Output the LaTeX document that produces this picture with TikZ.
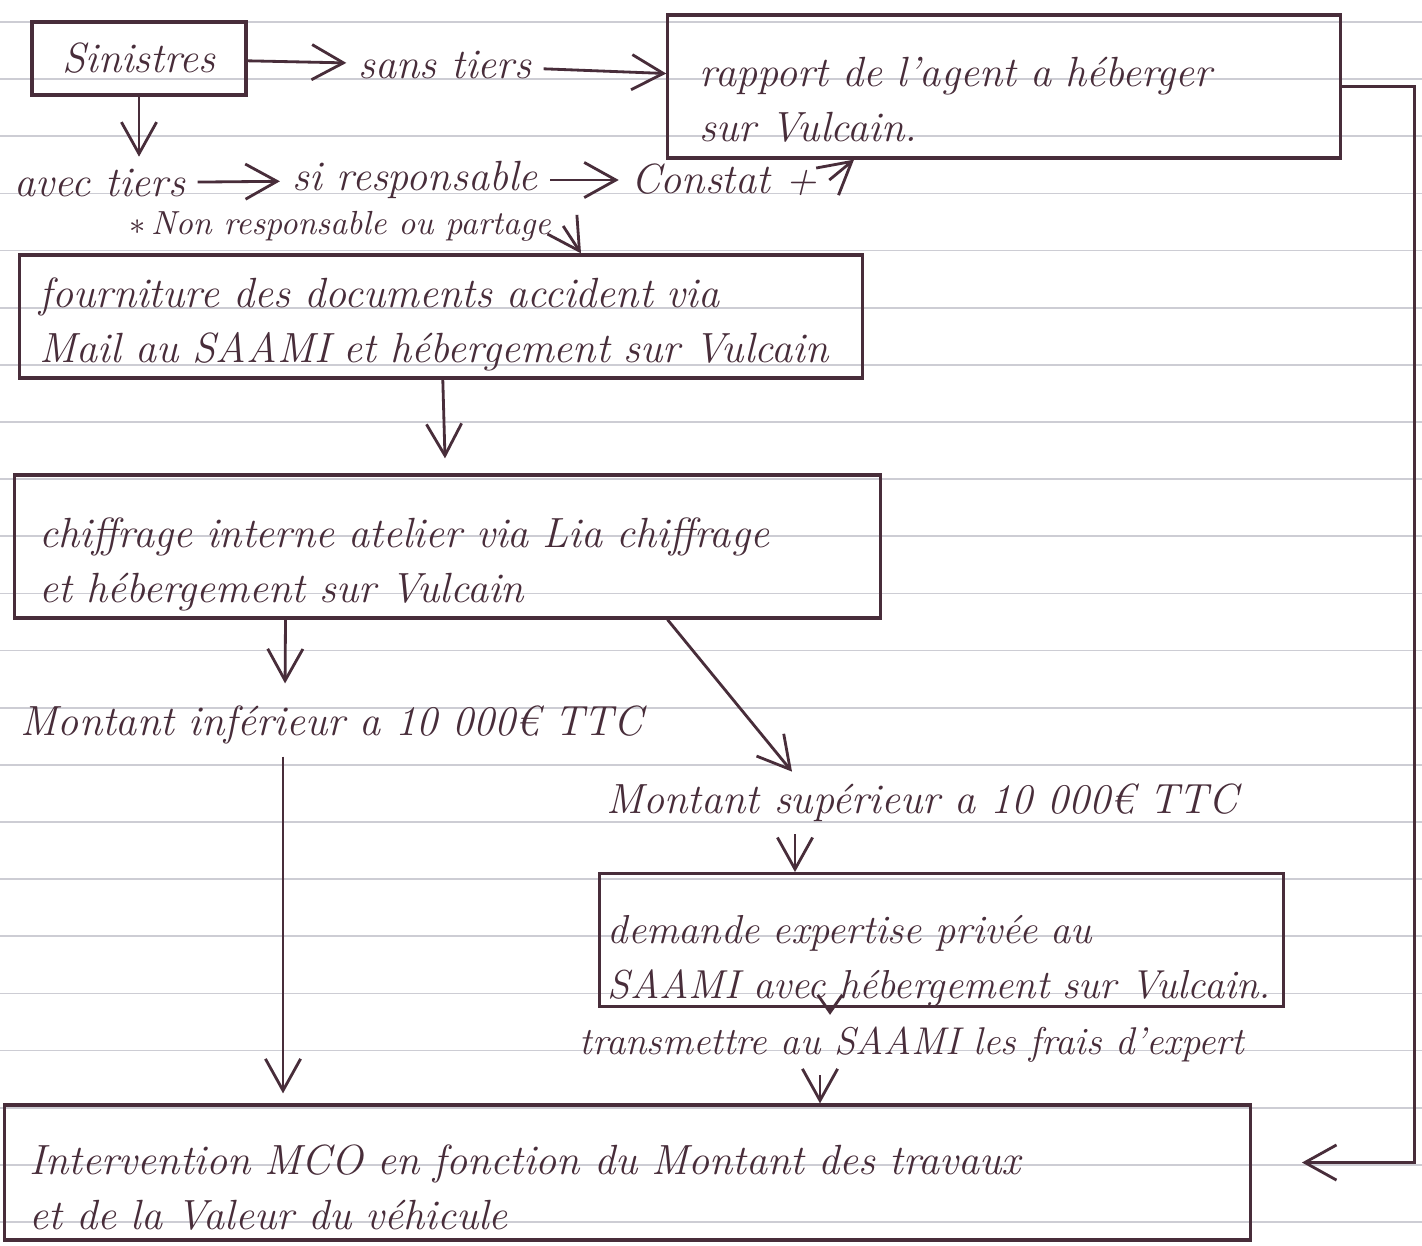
\documentclass[tikz,border=0pt]{standalone}
\usepackage{tikz}
\usetikzlibrary{calc,arrows.meta}
\definecolor{ink}{RGB}{72,45,58}
\definecolor{paperline}{RGB}{205,205,212}

\begin{document}
\begin{tikzpicture}[x=0.01cm,y=-0.01cm,
  every node/.style={text=ink,font=\fontsize{12}{15.5}\selectfont\itshape},
  box/.style={draw=ink,line width=.9pt,inner ysep=0pt,align=left},
  textdrop/.style={execute at begin node={\rule{0pt}{#1}}},
  flow/.style={draw=ink,line width=.8pt,-{Straight Barb[length=9pt,width=10pt]}},
  shortflow/.style={flow,-{Straight Barb[length=5pt,width=7pt]}},
  small/.style={font=\fontsize{9.5}{11}\selectfont\itshape}]
  \useasboundingbox (0,0) rectangle (1422,1245);
  \fill[white] (0,0) rectangle (1422,1245);
  \foreach \i in {0,...,21}
    \draw[paperline,line width=.5pt] (0,22+57.14*\i) -- (1422,22+57.14*\i);

  \node[box,minimum width=2.14cm,minimum height=0.73cm] (sin) at (139,58.5) {Sinistres};
  \node (sans) at (445,65) {sans tiers};
  \node[box,textdrop=0.56cm,text width=6.08cm,inner xsep=0.32cm,minimum height=1.43cm] (rap) at (1004,86.5)
    {rapport de l'agent a héberger\\ sur Vulcain.};

  \node (avec) at (100,183) {avec tiers};
  \node (siresp) at (415,180) {si responsable};
  \node (constat) at (724,180) {Constat +};
  \node[small] (nonresp) at (340,226) {$\ast$\,Non responsable ou partage};

  \node[box,textdrop=0.46cm,text width=8.02cm,inner xsep=0.2cm,minimum height=1.23cm] (four) at (441,316.5)
    {fourniture des documents accident via\\ Mail au SAAMI et hébergement sur Vulcain};
  \node[box,textdrop=0.66cm,text width=8.15cm,inner xsep=0.25cm,minimum height=1.43cm] (chif) at (447.5,546.5)
    {chiffrage interne atelier via Lia chiffrage\\ et hébergement sur Vulcain};

  \node (inf) at (332,725) {Montant inférieur a 10 000€ TTC};
  \node (sup) at (922,803) {Montant supérieur a 10 000€ TTC};
  \node[box,textdrop=0.7cm,text width=6.67cm,inner xsep=0.08cm,minimum height=1.30cm,
    font=\fontsize{11.5}{15.5}\selectfont\itshape] (dem) at (941.5,940)
    {demande expertise privée au\\ SAAMI avec hébergement sur Vulcain.};
  \node[font=\fontsize{11}{13}\selectfont\itshape] (trans) at (912,1045)
    {transmettre au SAAMI les frais d'expert};
  \node[box,textdrop=0.6cm,text width=11.95cm,inner xsep=0.25cm,minimum height=1.35cm] (mco) at (627.5,1172.5)
    {Intervention MCO en fonction du Montant des travaux\\ et de la Valeur du véhicule};

  \draw[flow] (sin) -- (sans);
  \draw[flow] (sans) -- (rap);
  \draw[flow] (sin.south) -- (sin.south |- avec.north);
  \draw[flow] (avec) -- (siresp);
  \draw[flow] (siresp) -- (constat);
  \draw[flow] (constat.east) -- ($(rap.south)+(-150,0)$);
  \draw[flow] (nonresp.east) -- ($(four.north)+(140,0)$);
  \draw[flow,shorten >=0.15cm] (four) -- (chif);
  \draw[flow,shorten >=0.1cm] ($(chif.south)+(-162,0)$) -- ($(inf.north)+(-47,0)$);
  \draw[flow,shorten >=0.1cm] ($(inf.south)+(-49,0)$) -- ($(mco.north)+(-344.5,0)$);
  \draw[flow] ($(chif.south)+(220,0)$) -- ($(sup.north)+(-130,0)$);
  \draw[flow] ($(sup.south)+(-127,0)$) -- ($(dem.north)+(-146.5,0)$);
  \draw[shortflow] ($(dem.south)+(-111.5,0)$) -- ($(trans.north)+(-82,0)$);
  \draw[flow] ($(trans.south)+(-92,0)$) -- ($(mco.north)+(192.5,0)$);
  \draw[flow] (rap.east) -- ++(73,0) |- ($(mco.east)+(50,-10)$);
\end{tikzpicture}
\end{document}
